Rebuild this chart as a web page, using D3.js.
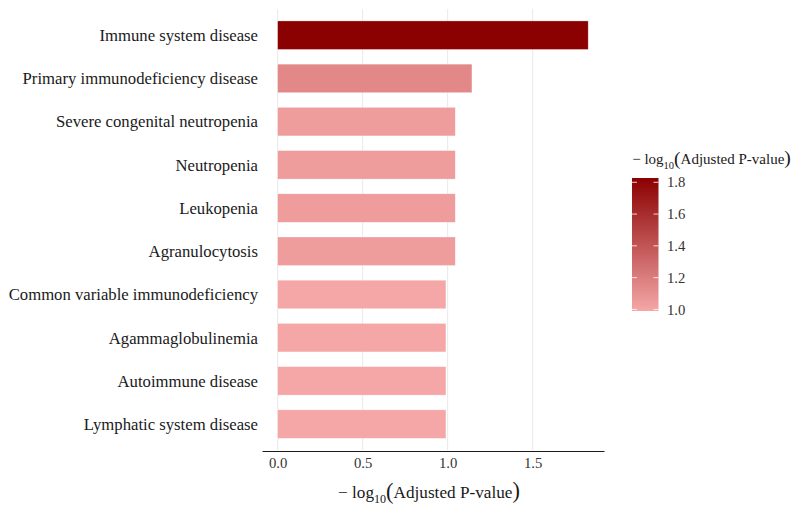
<!DOCTYPE html>
<html>
<head>
<meta charset="utf-8">
<script src="https://cdn.jsdelivr.net/npm/d3@7"></script>
<style>
  body { margin: 0; background: #fff; }
</style>
</head>
<body>
<div id="graph"></div>
<script>
'use strict'

const terms = [
  'Immune system disease',
  'Primary immunodeficiency disease',
  'Severe congenital neutropenia',
  'Neutropenia',
  'Leukopenia',
  'Agranulocytosis',
  'Common variable immunodeficiency',
  'Agammaglobulinemia',
  'Autoimmune disease',
  'Lymphatic system disease'
]
const logP = [1.827, 1.143, 1.045, 1.045, 1.045, 1.045, 0.99, 0.99, 0.99, 0.99]
const xTicks = [0, 0.5, 1.0, 1.5]
const legendTicks = [1.0, 1.2, 1.4, 1.6, 1.8]

const W = 798, H = 512
const FONT = 'Liberation Serif'
const margin = { top: 13.6, right: 194, bottom: 66.4, left: 262 }
const data = terms.map((t, i) => ({ term: t, v: logP[i] }))

let svg = d3.select('#graph').append('svg')
  .attr('width', W)
  .attr('height', H)
  .style('font-family', FONT)

let x = d3.scaleLinear()
  .domain([-0.092, 1.92])
  .range([margin.left, W - margin.right])
let y = d3.scaleBand()
  .domain(terms)
  .range([margin.top, 445.7])
  .paddingInner(0.34)
  .paddingOuter(0.17)

let color = d3.scaleLinear()
  .domain(d3.extent(logP))
  .range(['#f5a7a7', '#8b0000'])
  .interpolate(d3.interpolateRgb)

// grid
svg.append('g')
  .selectAll('line')
  .data(xTicks)
  .join('line')
  .attr('x1', d => x(d))
  .attr('x2', d => x(d))
  .attr('y1', 9)
  .attr('y2', 450)
  .attr('stroke', '#ebebeb')
  .attr('stroke-width', 1.1)

// bars
svg.append('g')
  .selectAll('rect')
  .data(data)
  .join('rect')
  .attr('x', x(0))
  .attr('y', d => y(d.term))
  .attr('width', d => x(d.v) - x(0))
  .attr('height', y.bandwidth())
  .attr('fill', d => color(d.v))
  .attr('stroke', '#fff')
  .attr('stroke-opacity', 0.5)
  .attr('stroke-width', 0.6)

// y labels
svg.append('g')
  .selectAll('text')
  .data(terms)
  .join('text')
  .attr('x', 258)
  .attr('y', d => y(d) + y.bandwidth() / 2)
  .attr('dy', '0.35em')
  .attr('text-anchor', 'end')
  .style('font-family', FONT)
  .style('font-size', '16.7px')
  .style('fill', '#1a1a1a')
  .text(d => d)

// x axis
let ax = svg.append('g')
  .attr('transform', 'translate(0, 451)')
  .call(d3.axisBottom(x).tickValues(xTicks).tickFormat(d3.format('.1f')).tickSize(0).tickPadding(7))
ax.attr('font-family', null)
ax.select('.domain').attr('stroke', '#1a1a1a').attr('stroke-width', 1.2)
ax.selectAll('text')
  .style('font-size', '14.7px')
  .style('font-family', FONT)
  .style('fill', '#333')

function logTitle(g, cx, cy, size) {
  let t = g.append('text')
    .attr('x', cx)
    .attr('y', cy)
    .attr('text-anchor', 'middle')
    .style('font-size', size + 'px')
    .style('font-family', FONT)
    .style('fill', '#1a1a1a')
  t.append('tspan').text('\u2212 log')
  t.append('tspan').style('font-size', (size * 0.7) + 'px').attr('dy', size * 0.3).text('10')
  t.append('tspan').style('font-size', (size * 1.3) + 'px').attr('dy', -size * 0.3 + 1).text('(')
  t.append('tspan').attr('dy', -1).text('Adjusted P-value')
  t.append('tspan').style('font-size', (size * 1.3) + 'px').text(')')
}

logTitle(svg, 429, 498, 17.2)

// legend
let lg = svg.append('g')
let defs = svg.append('defs')
let grad = defs.append('linearGradient')
  .attr('id', 'lgrad')
  .attr('x1', 0).attr('x2', 0).attr('y1', 1).attr('y2', 0)
let ext = d3.extent(logP)
d3.range(0, 1.0001, 0.1).forEach(t => {
  grad.append('stop')
    .attr('offset', t)
    .attr('stop-color', color(ext[0] + t * (ext[1] - ext[0])))
})
let ly = d3.scaleLinear()
  .domain(ext)
  .range([311, 178])
lg.append('rect')
  .attr('x', 632)
  .attr('y', ly(ext[1]))
  .attr('width', 26.5)
  .attr('height', ly(ext[0]) - ly(ext[1]))
  .attr('fill', 'url(#lgrad)')
lg.selectAll('.tk')
  .data(legendTicks)
  .join('g')
  .each(function (d) {
    let g = d3.select(this)
    g.append('line').attr('x1', 632).attr('x2', 637).attr('y1', ly(d)).attr('y2', ly(d)).attr('stroke', '#fff').attr('stroke-opacity', 0.8)
    g.append('line').attr('x1', 653.5).attr('x2', 658.5).attr('y1', ly(d)).attr('y2', ly(d)).attr('stroke', '#fff').attr('stroke-opacity', 0.8)
    g.append('text').attr('x', 667).attr('y', ly(d)).attr('dy', '0.35em')
      .style('font-family', FONT)
      .style('font-size', '14.7px').style('fill', '#333').text(d3.format('.1f')(d))
  })
logTitle(lg, 711.5, 164, 15)
</script>
</body>
</html>
